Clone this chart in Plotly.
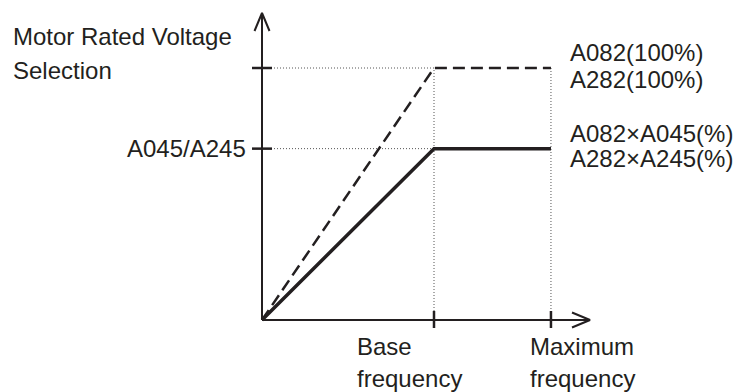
import plotly.graph_objects as go

# frequency in % of base frequency, voltage in % of motor rated voltage (A082/A282)
freq = [0, 100, 168]
rated_voltage = [0, 100, 100]      # dashed: A082(100%)
output_voltage = [0, 68, 68]       # solid: A082 x A045(%)
base_freq = 100
max_freq = 168
v_rated = 100
v_a045 = 68

y_labels = ["Motor Rated Voltage", "Selection"]
tick_label_v = "A045/A245"
right_labels_top = ["A082(100%)", "A282(100%)"]
right_labels_bot = ["A082×A045(%)", "A282×A245(%)"]
x_labels_base = ["Base", "frequency"]
x_labels_max = ["Maximum", "frequency"]

W, H = 735, 392
# pixel placement of the origin and scale (px per unit)
X0, Y0 = 262, 320
SX, SY = 1.72, 2.52
x_tip = (590 - X0) / SX
y_tip = (Y0 - 13) / SY

INK = "#231f20"
FONT = dict(family="Liberation Sans, Arial, sans-serif", size=24, color=INK)

fig = go.Figure()

# dotted guide lines
dot = dict(color="#555", width=1, dash="1px,2px")
fig.add_trace(go.Scatter(x=[0, base_freq, base_freq], y=[v_rated, v_rated, 0], mode="lines", line=dot))
fig.add_trace(go.Scatter(x=[0, base_freq], y=[v_a045, v_a045], mode="lines", line=dot))
fig.add_trace(go.Scatter(x=[max_freq, max_freq], y=[v_rated, 0], mode="lines", line=dot))

# V/f curves
fig.add_trace(go.Scatter(x=freq, y=rated_voltage, mode="lines",
                         line=dict(color=INK, width=2.5, dash="12px,6px")))
fig.add_trace(go.Scatter(x=freq, y=output_voltage, mode="lines",
                         line=dict(color=INK, width=3.5)))

# axes with open arrowheads
ax = dict(color=INK, width=2)
fig.add_trace(go.Scatter(x=[0, 0], y=[0, y_tip], mode="lines", line=ax))
fig.add_trace(go.Scatter(x=[0, x_tip], y=[0, 0], mode="lines", line=ax))
ah_w, ah_l = 7.5, 18
fig.add_trace(go.Scatter(x=[-ah_w / SX, 0, ah_w / SX], y=[y_tip - ah_l / SY, y_tip, y_tip - ah_l / SY],
                         mode="lines", line=dict(color=INK, width=2)))
fig.add_trace(go.Scatter(x=[x_tip - ah_l / SX, x_tip, x_tip - ah_l / SX], y=[ah_w / SY, 0, -ah_w / SY],
                         mode="lines", line=dict(color=INK, width=2)))

# ticks
for v in [v_rated, v_a045]:
    fig.add_trace(go.Scatter(x=[-10 / SX, 10 / SX], y=[v, v], mode="lines", line=dict(color=INK, width=2.5)))
for f in [base_freq, max_freq]:
    fig.add_trace(go.Scatter(x=[f, f], y=[-8 / SY, 9 / SY], mode="lines", line=dict(color=INK, width=2.5)))


def px(x, y):
    return x / W, 1 - y / H


def label(text, x, y, anchor="left"):
    xp, yp = px(x, y)
    fig.add_annotation(text=text, x=xp, y=yp, xref="paper", yref="paper", showarrow=False,
                       xanchor=anchor, yanchor="middle", font=FONT)


label(y_labels[0], 11, 36)
label(y_labels[1], 11, 70)
label(tick_label_v, 248, 148, "right")
label(right_labels_top[0], 568, 52)
label(right_labels_top[1], 568, 79)
label(right_labels_bot[0], 568, 133)
label(right_labels_bot[1], 568, 159)
label(x_labels_base[0], 355, 346)
label(x_labels_base[1], 355, 378)
label(x_labels_max[0], 528, 346)
label(x_labels_max[1], 528, 378)

fig.update_layout(
    width=W, height=H, margin=dict(l=0, r=0, t=0, b=0),
    plot_bgcolor="white", paper_bgcolor="white", showlegend=False,
    xaxis=dict(range=[-X0 / SX, (W - X0) / SX], visible=False, fixedrange=True),
    yaxis=dict(range=[(Y0 - H) / SY, Y0 / SY], visible=False, fixedrange=True),
)

fig.write_html("out.html", config={"displayModeBar": False},
               post_script="document.body.style.margin='0';document.body.style.overflow='hidden';")
